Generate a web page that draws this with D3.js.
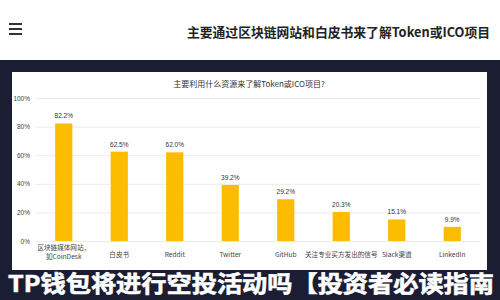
<!DOCTYPE html>
<html>
<head>
<meta charset="utf-8">
<script src="https://cdnjs.cloudflare.com/ajax/libs/d3/7.8.5/d3.min.js"></script>
<style>
  html, body { margin: 0; padding: 0; background: #fff; }
  svg { display: block; font-family: "Noto Sans CJK SC", "Noto Sans", sans-serif; }
</style>
</head>
<body>
<svg id="chart" width="500" height="300"></svg>
<script>
// chart data
var categories = [
    ['区块链媒体网站，', '如CoinDesk'],
    ['白皮书'],
    ['Reddit'],
    ['Twitter'],
    ['GitHub'],
    ['关注专业买方发出的信号'],
    ['Slack渠道'],
    ['LinkedIn']
];
var values = [82.2, 62.5, 62.0, 39.2, 29.2, 20.3, 15.1, 9.9];
var yTicks = [0, 20, 40, 60, 80, 100];

var headerText = '主要通过区块链网站和白皮书来了解Token或ICO项目';
var chartTitle = '主要利用什么资源来了解Token或ICO项目?';
var bannerText = 'TP钱包将进行空投活动吗【投资者必读指南';

(function () {
    'use strict';

    var svg = d3.select('#chart');

    // page header
    svg.append('rect').attr('width', 500).attr('height', 60).attr('fill', '#fff');
    [0, 1, 2].forEach(function (i) {
        svg.append('rect')
            .attr('x', 9).attr('y', 23 + i * 5)
            .attr('width', 13).attr('height', 2)
            .attr('fill', '#333');
    });
    svg.append('text')
        .attr('x', 490).attr('y', 37)
        .attr('text-anchor', 'end')
        .attr('font-size', 12.8)
        .attr('font-weight', 'bold')
        .attr('fill', '#222')
        .text(headerText);

    // dark band + card
    svg.append('rect').attr('y', 60).attr('width', 500).attr('height', 240).attr('fill', '#1b1d33');
    svg.append('rect')
        .attr('x', 12).attr('y', 72)
        .attr('width', 475).attr('height', 198)
        .attr('fill', '#fff');

    svg.append('text')
        .attr('x', 249).attr('y', 87)
        .attr('text-anchor', 'middle')
        .attr('font-size', 8)
        .attr('fill', '#333')
        .text(chartTitle);

    var x = d3.scaleBand()
        .domain(d3.range(values.length))
        .range([36, 480])
        .paddingInner(0.69)
        .paddingOuter(0.345);

    var y = d3.scaleLinear().domain([0, 100]).range([241, 98]);

    var yAxis = svg.append('g')
        .attr('transform', 'translate(36,0)')
        .call(d3.axisLeft(y).tickValues(yTicks)
            .tickSize(-444)
            .tickPadding(6)
            .tickFormat(function (d) { return d + '%'; }));
    yAxis.select('.domain').remove();
    yAxis.selectAll('line').attr('stroke', '#e6e6e6').attr('stroke-width', 0.8);
    yAxis.selectAll('text')
        .attr('font-size', 6.5)
        .attr('fill', '#444')
        .attr('font-family', 'Liberation Sans, Arial, sans-serif');

    svg.append('g').selectAll('rect')
        .data(values)
        .enter().append('rect')
        .attr('x', function (d, i) { return x(i); })
        .attr('y', function (d) { return y(d); })
        .attr('width', x.bandwidth())
        .attr('height', function (d) { return y(0) - y(d); })
        .attr('fill', '#fcbc00');

    svg.append('g').selectAll('text')
        .data(values)
        .enter().append('text')
        .attr('x', function (d, i) { return x(i) + x.bandwidth() / 2; })
        .attr('y', function (d) { return y(d) - 5; })
        .attr('text-anchor', 'middle')
        .attr('font-size', 6.5)
        .attr('fill', '#333')
        .attr('font-family', 'Liberation Sans, Arial, sans-serif')
        .text(function (d) { return d.toFixed(1) + '%'; });

    // x labels, one text per line
    categories.forEach(function (lines, i) {
        lines.forEach(function (line, j) {
            svg.append('text')
                .attr('x', x(i) + x.bandwidth() / 2)
                .attr('y', (lines.length > 1 ? 250 : 257) + j * 9)
                .attr('text-anchor', 'middle')
                .attr('font-size', 6.6)
                .attr('fill', '#444')
                .text(line);
        });
    });

    // bottom banner
    svg.append('text')
        .attr('x', 8).attr('y', 292)
        .attr('font-size', 23)
        .attr('font-weight', 'bold')
        .attr('fill', '#fff')
        .attr('stroke', '#fff')
        .attr('stroke-width', 0.6)
        .attr('textLength', 486)
        .attr('lengthAdjust', 'spacingAndGlyphs')
        .text(bannerText);
})();
</script>
</body>
</html>
